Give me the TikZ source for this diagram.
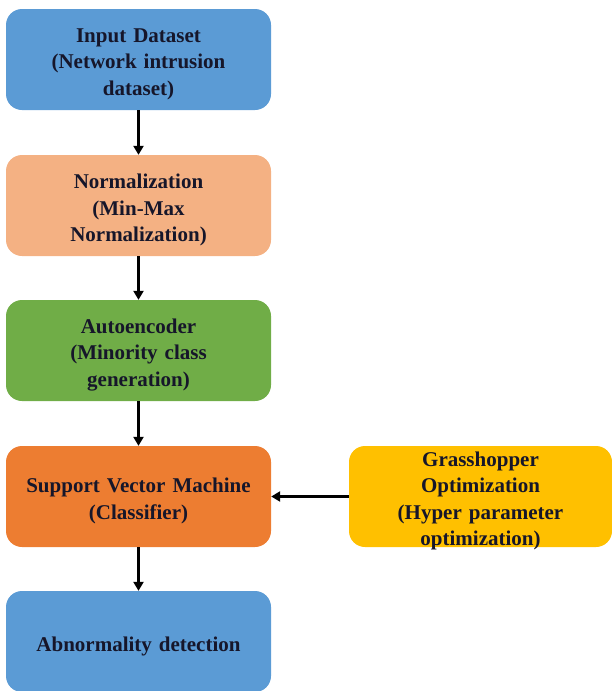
\documentclass[tikz,border=0pt]{standalone}
\usepackage{fontspec}
\setmainfont{Liberation Serif}
\usetikzlibrary{arrows.meta}
\definecolor{cblue}{HTML}{5B9BD5}
\definecolor{cpeach}{HTML}{F4B183}
\definecolor{cgreen}{HTML}{70AD47}
\definecolor{corange}{HTML}{ED7D31}
\definecolor{cgold}{HTML}{FFC000}
\definecolor{ctext}{HTML}{16162A}
\tikzset{
  box/.style={rounded corners=16pt, minimum width=265pt, minimum height=101pt,
    inner sep=0pt},
  boxtext/.style={inner sep=0pt, align=center, text width=255pt, yshift=-4.5pt,
    font=\fontsize{21}{26.5}\selectfont\bfseries, text=ctext},
  arr/.style={line width=2.6pt, -{Triangle[length=9pt,width=10pt]}}
}
\begin{document}
\begin{tikzpicture}[x=1pt,y=-1pt]
\useasboundingbox (0,0) rectangle (612,691);
\begin{scope}
\clip (0,0) rectangle (612,691);
\node[box, fill=cblue, label={[boxtext]center:Input Dataset\\(Network intrusion\\dataset)}] (n1) at (138.5,59.5) {};
\node[box, fill=cpeach, label={[boxtext]center:Normalization\\(Min-Max\\Normalization)}] (n2) at (138.5,205.5) {};
\node[box, fill=cgreen, label={[boxtext]center:Autoencoder\\(Minority class\\generation)}] (n3) at (138.5,350.5) {};
\node[box, fill=corange, label={[boxtext]center:Support Vector Machine\\(Classifier)}] (n4) at (138.5,496.5) {};
\node[box, fill=cblue, label={[boxtext]center:Abnormality detection}] (n5) at (138.5,641.5) {};
\node[box, fill=cgold, minimum width=263pt, label={[boxtext]center:Grasshopper\\Optimization\\(Hyper parameter\\optimization)}] (g) at (480.5,496.5) {};
\end{scope}
\draw[arr] (n1) -- (n2);
\draw[arr] (n2) -- (n3);
\draw[arr] (n3) -- (n4);
\draw[arr] (n4) -- (n5);
\draw[arr] (g) -- (n4);
\end{tikzpicture}
\end{document}
